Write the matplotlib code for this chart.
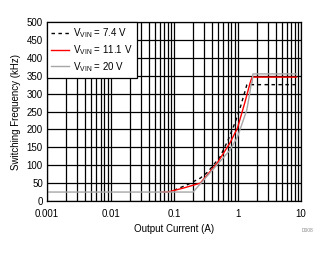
import numpy as np
import matplotlib
matplotlib.use('Agg')
from matplotlib import pyplot as plt

plt.rcParams['font.family'] = ['Liberation Sans', 'DejaVu Sans']

# V_IN = 7.4 V
i_74 = [0.1, 0.16, 0.26, 0.34, 0.53, 0.71, 0.91, 1.1, 1.3, 1.4, 1.45, 9.0]
f_74 = [30, 45, 64, 81, 123, 170, 218, 260, 304, 324, 325, 325]
# V_IN = 11.1 V
i_111 = [0.065, 0.08, 0.14, 0.26, 0.48, 0.76, 1.0, 1.3, 1.58, 1.7, 2.5, 8.5]
f_111 = [25, 25, 36, 50, 106, 162, 204, 274, 330, 346, 346, 346]
# V_IN = 20 V
i_20 = [0.001, 0.2, 0.76, 1.0, 1.4, 1.57, 1.65, 1.7, 1.75, 8.5]
f_20 = [25, 25, 142, 179, 254, 304, 330, 330, 355, 355]

labels = [r'V$_{\mathregular{VIN}}$ = 7.4 V',
          r'V$_{\mathregular{VIN}}$ = 11.1 V',
          r'V$_{\mathregular{VIN}}$ = 20 V']

fig = plt.figure(figsize=(3.3, 2.54), dpi=100)
ax = fig.add_axes([47/330, 1-201/254, 254/330, 179/254])

ax.plot(i_74, f_74, color='black', ls=(0, (2.5, 2.5)), lw=1.0, label=labels[0])
ax.plot(i_111, f_111, color='#ff0000', lw=1.0, label=labels[1])
ax.plot(i_20, f_20, color='#a6a6a6', lw=1.0, label=labels[2])

ax.set_xscale('log')
ax.set_xlim(0.001, 10)
ax.set_ylim(0, 500)
ax.set_yticks(np.arange(0, 501, 50))
ax.set_xticks([0.001, 0.01, 0.1, 1, 10])
ax.set_xticklabels(['0.001', '0.01', '0.1', '1', '10'])
ax.grid(True, which='both', color='black', lw=0.9)
ax.set_axisbelow(True)
ax.tick_params(which='both', length=0, labelsize=7)
ax.tick_params(axis='x', pad=6)
ax.tick_params(axis='y', pad=3)
for s in ax.spines.values():
    s.set_linewidth(0.9)

ax.set_xlabel('Output Current (A)', fontsize=7, labelpad=3)
ax.set_ylabel('Switching Frequency (kHz)', fontsize=7, labelpad=4)

leg = ax.legend(loc='upper left', fontsize=7, frameon=True, fancybox=False,
                framealpha=1, edgecolor='black', borderaxespad=0,
                handlelength=1.8, handletextpad=0.4, labelspacing=0.3,
                borderpad=0.45)
leg.get_frame().set_linewidth(0.9)

fig.text(307/330, 1-232/254, 'D008', fontsize=3.5, color='#888888', ha='center')

fig.savefig('out.png', dpi=100)
